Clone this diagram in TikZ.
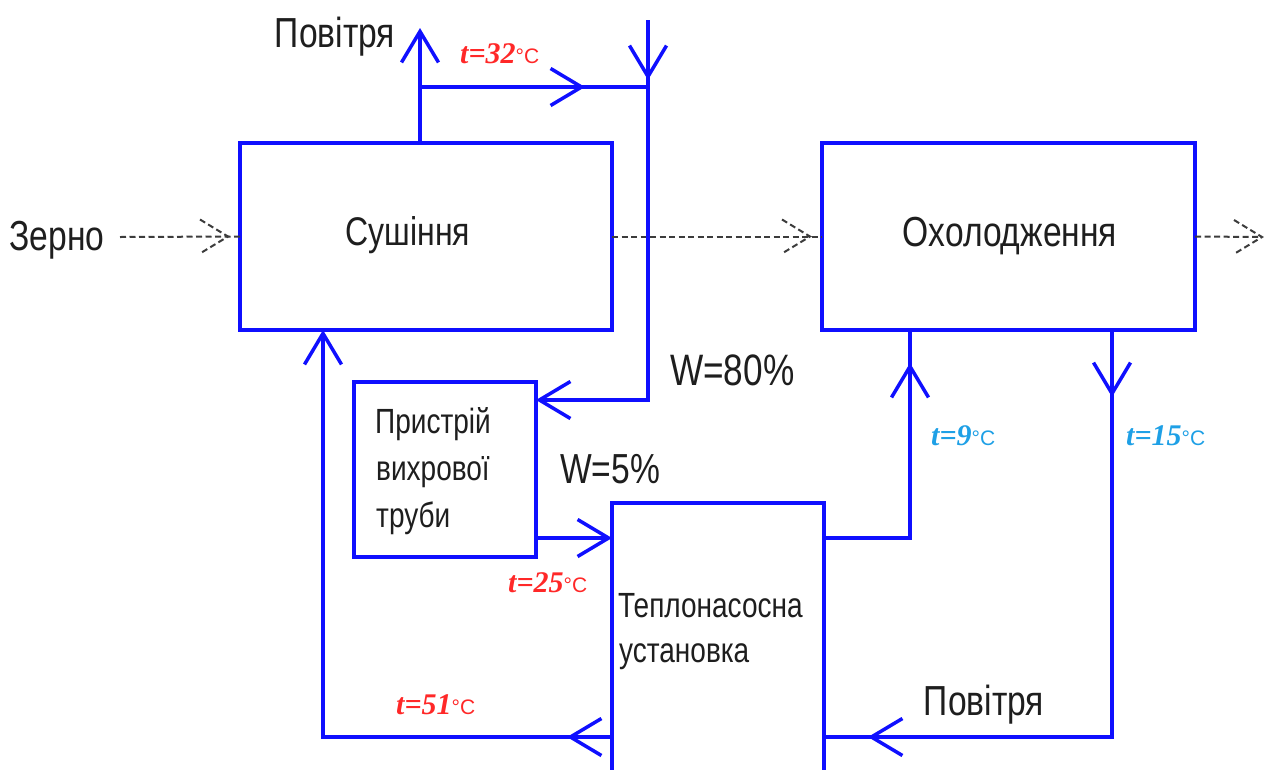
\documentclass[tikz,border=0pt]{standalone}
\usepackage{fontspec}
\setmainfont{Liberation Sans}
\newfontfamily\gost[FakeStretch=0.8]{Liberation Sans}
\newfontfamily\tser{Liberation Serif}
\usetikzlibrary{arrows.meta,decorations.markings,calc}
\definecolor{flowblue}{RGB}{15,15,255}
\definecolor{tred}{RGB}{255,40,40}
\definecolor{tcyan}{RGB}{30,160,230}
\definecolor{txtc}{RGB}{30,30,30}
\definecolor{grainc}{RGB}{60,60,60}
\newcommand{\gsz}[1]{\gost\fontsize{#1pt}{#1pt}\selectfont}
\newcommand{\tlab}[1]{{\tser\fontsize{30pt}{30pt}\selectfont\bfseries\itshape t=#1}{\fontsize{21pt}{21pt}\selectfont °C}}
\tikzset{
  barb/.tip={Straight Barb[length=31pt,width=37pt]},
  box/.style={draw=flowblue, line width=3.5pt, rectangle, inner sep=0pt, outer sep=0pt},
  flow/.style={draw=flowblue, line width=3.5pt},
  midarr/.style={postaction={decorate}, decoration={markings, mark=at position #1 with {\arrow{barb}}}},
  grain/.style={draw=grainc, line width=2pt, dash pattern=on 6pt off 3.5pt},
  lbl/.style={text=txtc, inner sep=0pt, anchor=base},
  lblw/.style={text=txtc, inner sep=0pt, anchor=base west},
  temp/.style={inner sep=0pt, anchor=base west},
  dtip/.pic={\draw[grain] (-28,-17) -- (0,0) -- (-28,17);}
}
\begin{document}
\begin{tikzpicture}[x=1pt,y=-1pt]
\useasboundingbox (0,0) rectangle (1274,769);
\clip (0,0) rectangle (1274,769);
\fill[white] (0,0) rectangle (1274,769);

% boxes
\node[box, minimum width=372pt, minimum height=187pt] (sush) at (426,236.5) {};
\node[box, minimum width=373pt, minimum height=187pt] (ohol) at (1008.5,236.5) {};
\node[box, minimum width=182pt, minimum height=175pt] (prist) at (445,469.5) {};
\node[box, minimum width=212pt, minimum height=297pt] (teplo) at (718,651.5) {};

% texts in boxes
\node[lbl, font=\gsz{40}] (tsush) at (408,245) {Сушіння};
\node[lbl, font=\gsz{42}] (tohol) at (1010,246) {Охолодження};
\node[lblw, font=\gsz{35}] (pr1) at (375,433) {Пристрій};
\node[lblw, font=\gsz{35}] (pr2) at (376,480) {вихрової};
\node[lblw, font=\gsz{35}] (pr3) at (376,527) {труби};
\node[lblw, font=\gsz{35}] (tp1) at (618,617) {Теплонасосна};
\node[lblw, font=\gsz{35}] (tp2) at (619,662) {установка};

% other labels
\node[lbl, font=\gsz{42}] (zerno) at (57,250) {Зерно};
\node[lbl, font=\gsz{42}] (pov1) at (335,47) {Повітря};
\node[lbl, font=\gsz{42}] (pov2) at (984,715) {Повітря};
\node[lblw, font=\gsz{44}] (w80) at (670,385) {W=80\%};
\node[lblw, font=\gsz{42}] (w5) at (560,483) {W=5\%};

% temperatures
\node[temp, text=tred] (t32) at (460,63) {\tlab{32}};
\node[temp, text=tred] (t25) at (508,592) {\tlab{25}};
\node[temp, text=tred] (t51) at (396,714) {\tlab{51}};
\node[temp, text=tcyan] (t9) at (931,445) {\tlab{9}};
\node[temp, text=tcyan] (t15) at (1126,445) {\tlab{15}};

% grain flow
\coordinate (g0) at (120,237);
\coordinate (g3) at (1262,237);
\draw[grain] (g0) -- (sush.west);
\pic at ([xshift=-12pt]sush.west) {dtip};
\draw[grain] (sush.east) -- (ohol.west);
\pic at ([xshift=-12pt]ohol.west) {dtip};
\draw[grain] (ohol.east) -- (g3);
\pic at (g3) {dtip};

% air circuit
\coordinate (airT) at (420,28);
\coordinate (j1) at (420,87);
\coordinate (inT) at (648,20);
\coordinate (k1) at (648,400);
\coordinate (b1) at (323,737);
\coordinate (c1) at (910,538);
\coordinate (d1) at (1112,737);
\coordinate (p1) at ([yshift=19pt]prist.south east);

\draw[flow,-{barb}] (sush.north -| airT) -- (airT);
\draw[flow,midarr=165pt] (j1) -- (j1 -| inT);
\draw[flow,midarr=60pt,-{barb}] (inT) -- (k1) -- (k1 -| prist.east);
\draw[flow,-{barb}] (p1) -- (p1 -| teplo.west);
\draw[flow,midarr=45pt,-{barb}] (teplo.west |- b1) -- (b1) -- (b1 |- sush.south);
\draw[flow,midarr=261pt] (teplo.east |- c1) -- (c1) -- (c1 |- ohol.south);
\draw[flow,postaction={decorate},decoration={markings,
   mark=at position 67pt with {\arrow{barb}},
   mark=at position 651pt with {\arrow{barb}}}]
   (d1 |- ohol.south) -- (d1) -- (d1 -| teplo.east);
\end{tikzpicture}
\end{document}
